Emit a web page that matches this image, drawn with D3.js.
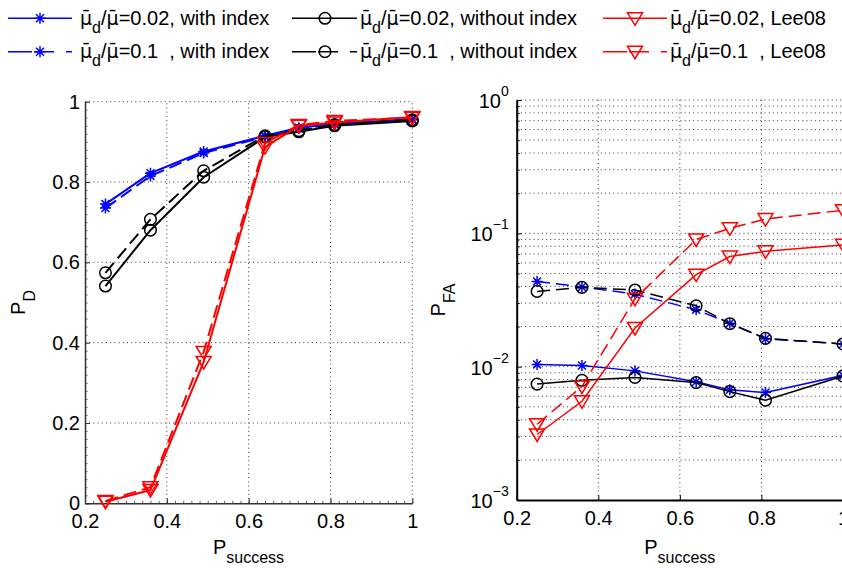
<!DOCTYPE html>
<html>
<head>
<meta charset="utf-8">
<script src="https://cdn.jsdelivr.net/npm/d3@7"></script>
<style>
html,body{margin:0;padding:0;background:#fff;}
svg{display:block;font-family:"Liberation Sans",Arial,Helvetica,sans-serif;}
text{white-space:pre;}
</style>
</head>
<body>
<svg id="chart" width="842" height="572"></svg>
<script>
// ---- data ----
const pSuccess = [0.25, 0.36, 0.49, 0.64, 0.7225, 0.81, 1.0];

// P_D (left panel)
const pdWithIdx002 = [0.745, 0.822, 0.876, 0.915, 0.935, 0.945, 0.955];
const pdWithIdx01  = [0.735, 0.815, 0.872, 0.913, 0.933, 0.943, 0.957];
const pdNoIdx002   = [0.541, 0.680, 0.812, 0.912, 0.925, 0.940, 0.952];
const pdNoIdx01    = [0.574, 0.707, 0.828, 0.915, 0.928, 0.943, 0.955];
const pdLee002     = [0.004, 0.033, 0.352, 0.887, 0.940, 0.948, 0.962];
const pdLee01      = [0.006, 0.040, 0.377, 0.897, 0.942, 0.952, 0.960];

// P_FA (right panel)
const faWithIdx002 = [0.0104, 0.0102, 0.0093, 0.0077, 0.0067, 0.0064, 0.0086];
const faWithIdx01  = [0.0436, 0.0396, 0.0350, 0.0267, 0.0212, 0.0162, 0.0148];
const faNoIdx002   = [0.0074, 0.0079, 0.0083, 0.0076, 0.0065, 0.0056, 0.0085];
const faNoIdx01    = [0.0367, 0.0393, 0.0376, 0.0286, 0.0210, 0.0163, 0.0148];
const faLee002     = [0.0031, 0.0055, 0.0195, 0.0490, 0.0670, 0.0733, 0.0820];
const faLee01      = [0.0037, 0.0071, 0.0323, 0.0900, 0.1090, 0.1280, 0.1490];

const xTicks = [0.2, 0.4, 0.6, 0.8, 1];
const pdTicks = [0, 0.2, 0.4, 0.6, 0.8, 1];
const faTicks = [1e-3, 1e-2, 1e-1, 1];
const faTickExp = ["\u22123", "\u22122", "\u22121", "0"];

const legendLabels = [
  ["0.02, with index", "0.1  , with index"],
  ["0.02, without index", "0.1  , without index"],
  ["0.02, Lee08", "0.1  , Lee08"]
];

// ---- series styles ----
const seriesPD = [
  {v: pdWithIdx002, c: "#0000ff", m: "star", dash: false},
  {v: pdWithIdx01,  c: "#0000ff", m: "star", dash: true},
  {v: pdNoIdx002,   c: "#000000", m: "circle", dash: false},
  {v: pdNoIdx01,    c: "#000000", m: "circle", dash: true},
  {v: pdLee002,     c: "#ff0000", m: "tri", dash: false},
  {v: pdLee01,      c: "#ff0000", m: "tri", dash: true}
];
const seriesFA = [
  {v: faWithIdx002, c: "#0000ff", m: "star", dash: false},
  {v: faWithIdx01,  c: "#0000ff", m: "star", dash: true},
  {v: faNoIdx002,   c: "#000000", m: "circle", dash: false},
  {v: faNoIdx01,    c: "#000000", m: "circle", dash: true},
  {v: faLee002,     c: "#ff0000", m: "tri", dash: false},
  {v: faLee01,      c: "#ff0000", m: "tri", dash: true}
];

const svg = d3.select("#chart");
const FS = 20;

function marker(g, type, x, y, color, sw) {
  if (type === "star") {
    const r = 5.5, d = r * 0.72;
    g.append("path")
      .attr("d", `M${x-r},${y}L${x+r},${y}M${x},${y-r}L${x},${y+r}M${x-d},${y-d}L${x+d},${y+d}M${x-d},${y+d}L${x+d},${y-d}`)
      .attr("stroke", color).attr("stroke-width", sw).attr("fill", "none");
  } else if (type === "circle") {
    g.append("circle").attr("cx", x).attr("cy", y).attr("r", 5.8)
      .attr("stroke", color).attr("stroke-width", sw).attr("fill", "none");
  } else {
    g.append("path")
      .attr("d", `M${x-7.5},${y-5.5}L${x+7.5},${y-5.5}L${x},${y+7}Z`)
      .attr("stroke", color).attr("stroke-width", sw).attr("fill", "none")
      .attr("stroke-linejoin", "miter");
  }
}

function drawSeries(g, series, xs, ys, lw) {
  const line = d3.line().x((d, i) => xs(pSuccess[i])).y(d => ys(d));
  series.forEach(s => {
    g.append("path").attr("d", line(s.v))
      .attr("fill", "none").attr("stroke", s.c).attr("stroke-width", lw)
      .attr("stroke-dasharray", s.dash ? "13,6" : null);
    s.v.forEach((d, i) => marker(g, s.m, xs(pSuccess[i]), ys(d), s.c, 1.5));
  });
}

const dotted = g => g.attr("stroke", "#222").attr("stroke-width", 0.9).attr("stroke-dasharray", "1,3.2");

// ================= LEFT PANEL =================
const xL = d3.scaleLinear().domain([0.2, 1]).range([85, 412.3]);
const yL = d3.scaleLinear().domain([0, 1]).range([503.3, 101.7]);

const gL = svg.append("g");
gL.append("g").selectAll("line").data(xTicks.slice(1)).join("line")
  .attr("x1", d => xL(d)).attr("x2", d => xL(d)).attr("y1", yL(0)).attr("y2", yL(1)).call(dotted);
gL.append("g").selectAll("line").data(pdTicks.slice(1)).join("line")
  .attr("x1", xL(0.2)).attr("x2", xL(1)).attr("y1", d => yL(d)).attr("y2", d => yL(d)).call(dotted);

gL.append("g").attr("transform", `translate(${xL(0.2)},0)`)
  .call(d3.axisLeft(yL).tickValues(d3.range(0, 1.001, 0.02)).tickSize(-2.5).tickFormat("").tickSizeOuter(0))
  .call(a => a.select(".domain").remove()).selectAll("line").attr("stroke", "#666");
gL.append("g").attr("transform", `translate(0,${yL(0)})`)
  .call(d3.axisBottom(xL).tickValues(d3.range(0.2, 1.001, 0.02)).tickSize(-2.5).tickFormat("").tickSizeOuter(0))
  .call(a => a.select(".domain").remove()).selectAll("line").attr("stroke", "#666");

const axLx = gL.append("g").attr("transform", `translate(0,${yL(0)})`)
  .call(d3.axisBottom(xL).tickValues(xTicks).tickFormat(d3.format("")).tickSize(-5).tickSizeOuter(0).tickPadding(10.5));
const axLy = gL.append("g").attr("transform", `translate(${xL(0.2)},0)`)
  .call(d3.axisLeft(yL).tickValues(pdTicks).tickFormat(d3.format("")).tickSize(-5).tickSizeOuter(0).tickPadding(5));
[axLx, axLy].forEach(a => {
  a.attr("font-family", null);
  a.select(".domain").attr("stroke", "#333").attr("stroke-width", 1.5);
  a.selectAll(".tick line").attr("stroke", "#333");
  a.selectAll("text").attr("font-size", FS).attr("fill", "#000");
});

drawSeries(gL.append("g"), seriesPD, xL, yL, 2);

const lxl = svg.append("text").attr("x", 248.5).attr("y", 554).attr("text-anchor", "middle").attr("font-size", FS);
lxl.append("tspan").text("P");
lxl.append("tspan").attr("font-size", 16).attr("dy", 9).text("success");

const lyl = svg.append("text").attr("transform", `translate(25,${(yL(0)+yL(1))/2}) rotate(-90)`).attr("text-anchor", "middle").attr("font-size", FS);
lyl.append("tspan").text("P");
lyl.append("tspan").attr("font-size", 16).attr("dy", 10).text("D");

// ================= RIGHT PANEL =================
const xR = d3.scaleLinear().domain([0.2, 1]).range([516.7, 843]);
const yR = d3.scaleLog().domain([1e-3, 1]).range([500, 100]);

const minorFA = [];
[1e-3, 1e-2, 1e-1].forEach(b => { for (let k = 2; k <= 9; k++) minorFA.push(b * k); });

const gR = svg.append("g");
gR.append("g").selectAll("line").data(xTicks.slice(1)).join("line")
  .attr("x1", d => xR(d)).attr("x2", d => xR(d)).attr("y1", yR(1e-3)).attr("y2", yR(1)).call(dotted);
gR.append("g").selectAll("line").data(faTicks.slice(1).concat(minorFA)).join("line")
  .attr("x1", xR(0.2)).attr("x2", xR(1)).attr("y1", d => yR(d)).attr("y2", d => yR(d)).call(dotted);

gR.append("g").attr("transform", `translate(${xR(0.2)},0)`)
  .call(d3.axisLeft(yR).tickValues(minorFA).tickSize(-3).tickFormat("").tickSizeOuter(0))
  .call(a => a.select(".domain").remove()).selectAll("line").attr("stroke", "#000");

const axRx = gR.append("g").attr("transform", `translate(0,${yR(1e-3)})`)
  .call(d3.axisBottom(xR).tickValues(xTicks).tickFormat(d3.format("")).tickSize(-5).tickSizeOuter(0).tickPadding(10.5));
const axRy = gR.append("g").attr("transform", `translate(${xR(0.2)},0)`)
  .call(d3.axisLeft(yR).tickValues(faTicks).tickFormat("").tickSize(-5).tickSizeOuter(0));
[axRx, axRy].forEach(a => {
  a.attr("font-family", null);
  a.select(".domain").attr("stroke", "#000").attr("stroke-width", 2);
  a.selectAll(".tick line").attr("stroke", "#000");
  a.selectAll("text").attr("font-size", FS).attr("fill", "#000");
});
axRy.selectAll(".tick").each(function(d, i) {
  const t = d3.select(this).append("text").attr("x", -8).attr("y", 7.5)
    .attr("text-anchor", "end").attr("font-size", FS).attr("fill", "#000");
  t.append("tspan").text("10");
  t.append("tspan").attr("font-size", 14).attr("dy", -12).text(faTickExp[i]);
});

drawSeries(gR.append("g"), seriesFA, xR, yR, 1.5);

const rxl = svg.append("text").attr("x", 679.8).attr("y", 554).attr("text-anchor", "middle").attr("font-size", FS);
rxl.append("tspan").text("P");
rxl.append("tspan").attr("font-size", 16).attr("dy", 9).text("success");

const ryl = svg.append("text").attr("transform", `translate(445,${(yR(1e-3)+yR(1))/2}) rotate(-90)`).attr("text-anchor", "middle").attr("font-size", FS);
ryl.append("tspan").text("P");
ryl.append("tspan").attr("font-size", 16).attr("dy", 10).text("FA");

// ================= LEGEND =================
const legCols = [
  {x0: 8, x1: 72, mx: 40, tx: 80, c: "#0000ff", m: "star"},
  {x0: 292, x1: 357, mx: 325, tx: 360, c: "#000000", m: "circle"},
  {x0: 603, x1: 667, mx: 635, tx: 670, c: "#ff0000", m: "tri"}
];
const legRows = [{y: 18.3, ty: 24.5, dash: null}, {y: 51.7, ty: 58, dash: "24,2,20,12,8"}];
const gLeg = svg.append("g");
legCols.forEach((col, ci) => {
  legRows.forEach((row, ri) => {
    gLeg.append("line").attr("x1", col.x0).attr("x2", col.x1).attr("y1", row.y).attr("y2", row.y)
      .attr("stroke", col.c).attr("stroke-width", 1.5).attr("stroke-dasharray", row.dash);
    marker(gLeg, col.m, col.mx, row.y, col.c, 1.5);
    const t = gLeg.append("text").attr("x", col.tx).attr("y", row.ty).attr("font-size", FS).attr("fill", "#000");
    t.append("tspan").attr("font-family", "DejaVu Sans").attr("font-size", 19).text("\u03BC\u0304");
    t.append("tspan").attr("font-size", 16).attr("dy", 8).text("d");
    t.append("tspan").attr("dy", -8).text("/");
    t.append("tspan").attr("font-family", "DejaVu Sans").attr("font-size", 19).text("\u03BC\u0304");
    t.append("tspan").text("=" + legendLabels[ci][ri]);
  });
});
</script>
</body>
</html>
